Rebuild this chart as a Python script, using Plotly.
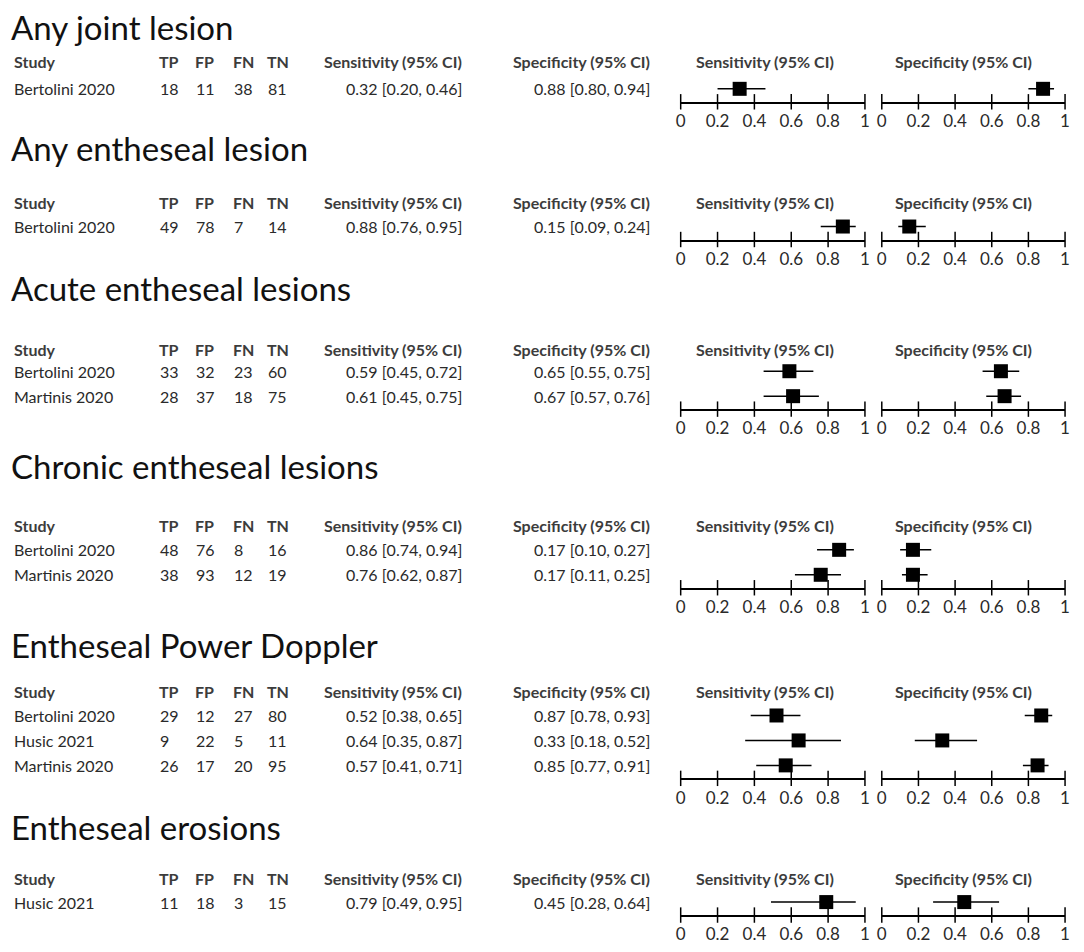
import plotly.graph_objects as go

# data
titles = ["Any joint lesion", "Any entheseal lesion", "Acute entheseal lesions",
          "Chronic entheseal lesions", "Entheseal Power Doppler", "Entheseal erosions"]
studies = [["Bertolini 2020"], ["Bertolini 2020"], ["Bertolini 2020", "Martinis 2020"],
           ["Bertolini 2020", "Martinis 2020"], ["Bertolini 2020", "Husic 2021", "Martinis 2020"],
           ["Husic 2021"]]
tp = [[18], [49], [33, 28], [48, 38], [29, 9, 26], [11]]
fp = [[11], [78], [32, 37], [76, 93], [12, 22, 17], [18]]
fn = [[38], [7], [23, 18], [8, 12], [27, 5, 20], [3]]
tn = [[81], [14], [60, 75], [16, 19], [80, 11, 95], [15]]
sens = [[0.32], [0.88], [0.59, 0.61], [0.86, 0.76], [0.52, 0.64, 0.57], [0.79]]
sens_lo = [[0.20], [0.76], [0.45, 0.45], [0.74, 0.62], [0.38, 0.35, 0.41], [0.49]]
sens_hi = [[0.46], [0.95], [0.72, 0.75], [0.94, 0.87], [0.65, 0.87, 0.71], [0.95]]
spec = [[0.88], [0.15], [0.65, 0.67], [0.17, 0.17], [0.87, 0.33, 0.85], [0.45]]
spec_lo = [[0.80], [0.09], [0.55, 0.57], [0.10, 0.11], [0.78, 0.18, 0.77], [0.28]]
spec_hi = [[0.94], [0.24], [0.75, 0.76], [0.27, 0.25], [0.93, 0.52, 0.91], [0.64]]
tick_vals = [0, 0.2, 0.4, 0.6, 0.8, 1]
tick_text = ["0", "0.2", "0.4", "0.6", "0.8", "1"]

# page layout, in pixels of the 1084x952 window; the page body adds an 8px margin
OFF = 8
W, H = 1084 - 2 * OFF, 952 - 2 * OFF
title_y = [27, 148, 289, 467, 646, 829]
header_y = [62, 203, 350, 527, 693, 880]
axis_y = [102, 240, 410, 589, 780, 917]
pitch = 25
sens_px = (682, 868)
spec_px = (885, 1070)
col_x = [153, 190, 228, 262]
FONT = "Lato"
TXT = "#2a2a2a"
HDR = "#3c3c3c"


def px(x):
    return (x - OFF) / W


def py(y):
    return 1 - (y - OFF) / H


fig = go.Figure()
layout = dict(width=W, height=H, margin=dict(l=0, r=0, t=0, b=0),
              paper_bgcolor="white", plot_bgcolor="white", showlegend=False,
              font=dict(family=FONT, color=TXT))
ann = []


def text(x, y, s, size=16, bold=False, anchor="left", color=TXT):
    ann.append(dict(x=px(x), y=py(y), xref="paper", yref="paper",
                    text=f"<b>{s}</b>" if bold else s,
                    showarrow=False, xanchor=anchor, yanchor="middle",
                    font=dict(family=FONT, size=size, color=color)))


k = 0
for s in range(len(titles)):
    n = len(studies[s])
    rows = [axis_y[s] - 13 - pitch * (n - 1 - i) for i in range(n)]

    text(4, title_y[s], titles[s], size=33, color="#111")
    # table header
    text(7, header_y[s], "Study", 16, True, color=HDR)
    for lab, x in zip(["TP", "FP", "FN", "TN"], col_x):
        text(x, header_y[s], lab, 16, True, color=HDR)
    text(463, header_y[s], "Sensitivity (95% CI)", 16, True, "right", HDR)
    text(653, header_y[s], "Specificity (95% CI)", 16, True, "right", HDR)
    text(767, header_y[s], "Sensitivity (95% CI)", 16, True, "center", HDR)
    text(967, header_y[s], "Specificity (95% CI)", 16, True, "center", HDR)

    for i in range(n):
        y = rows[i]
        text(7, y, studies[s][i])
        for v, x in zip([tp[s][i], fp[s][i], fn[s][i], tn[s][i]], col_x):
            text(x + 1, y, str(v))
        text(463, y, f"{sens[s][i]:.2f} [{sens_lo[s][i]:.2f}, {sens_hi[s][i]:.2f}]", anchor="right")
        text(653, y, f"{spec[s][i]:.2f} [{spec_lo[s][i]:.2f}, {spec_hi[s][i]:.2f}]", anchor="right")

    bottom = py(axis_y[s])
    top = py(axis_y[s] - (n + 0.02) * pitch)
    y_base = n - 1 + 0.52
    for est, lo, hi, xpx in [(sens[s], sens_lo[s], sens_hi[s], sens_px),
                             (spec[s], spec_lo[s], spec_hi[s], spec_px)]:
        k += 1
        xa, ya = f"x{k}", f"y{k}"
        # tick marks crossing the axis line
        fig.add_trace(go.Scatter(
            x=tick_vals, y=[y_base] * len(tick_vals), xaxis=xa, yaxis=ya, mode="markers",
            marker=dict(symbol="line-ns", size=11, line=dict(color="black", width=1.5)),
            cliponaxis=False, hoverinfo="skip"))
        fig.add_trace(go.Scatter(
            x=est, y=list(range(n)), xaxis=xa, yaxis=ya, mode="markers",
            marker=dict(symbol="square", size=14, color="black"),
            error_x=dict(type="data", symmetric=False,
                         array=[h - e for h, e in zip(hi, est)],
                         arrayminus=[e - l for e, l in zip(est, lo)],
                         width=0, thickness=1.5, color="black"),
            cliponaxis=False, hoverinfo="skip"))
        layout[f"xaxis{k}"] = dict(domain=[px(xpx[0]), px(xpx[1])], anchor=ya, range=[0, 1],
                                   showgrid=False, zeroline=False, showline=True,
                                   linecolor="black", linewidth=1.5, ticks="",
                                   ticklabelstandoff=3,
                                   tickvals=tick_vals, ticktext=tick_text,
                                   tickfont=dict(family=FONT, size=17, color=TXT),
                                   fixedrange=True)
        layout[f"yaxis{k}"] = dict(domain=[bottom, top], anchor=xa, range=[y_base, -0.5],
                                   showgrid=False, zeroline=False, showline=False,
                                   showticklabels=False, ticks="", fixedrange=True)

layout["annotations"] = ann
fig.update_layout(**layout)
fig.write_html("out.html")
